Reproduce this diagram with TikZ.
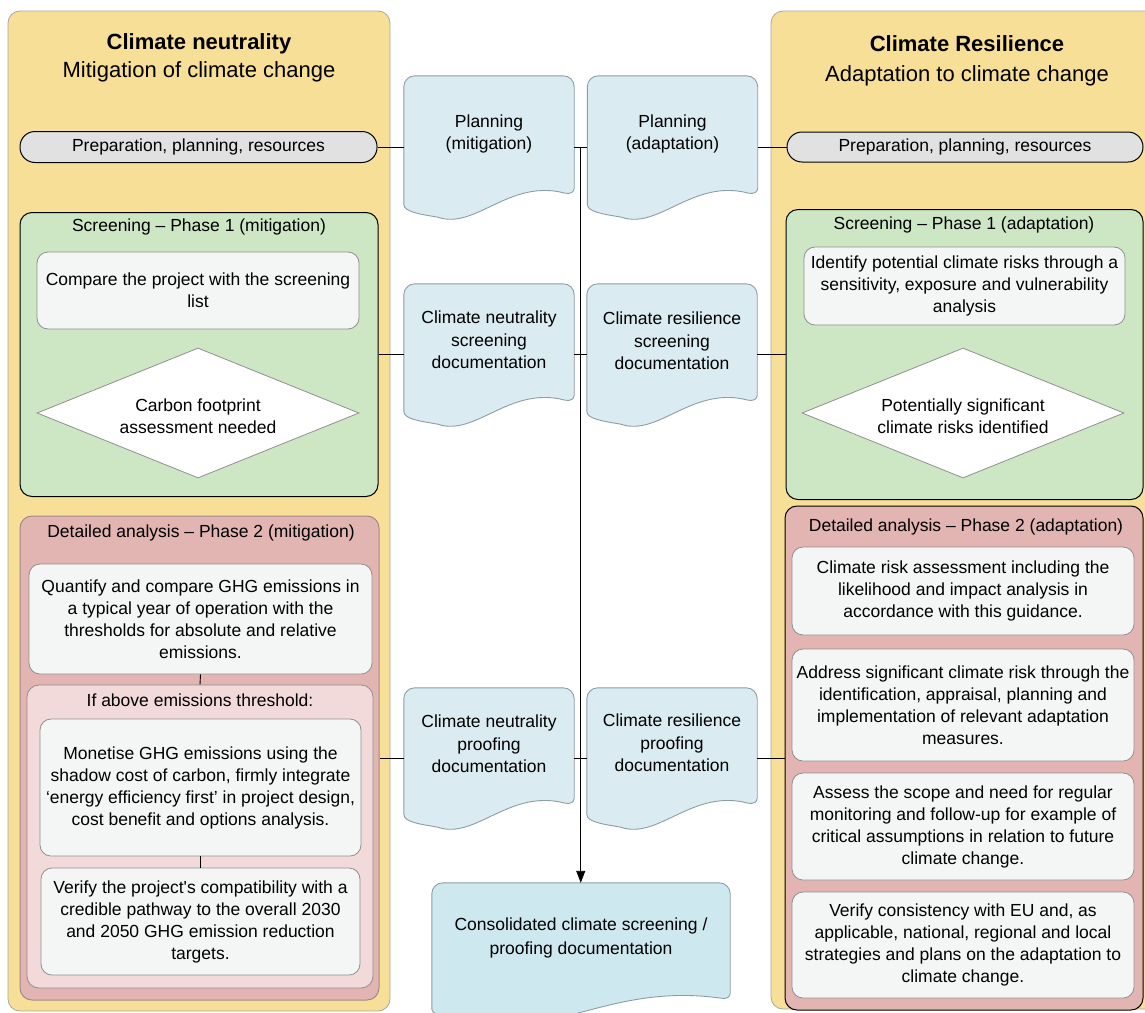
\documentclass[tikz,border=0pt]{standalone}
\usepackage{fontspec}
\setmainfont{Liberation Sans}
\usetikzlibrary{shapes.geometric,arrows.meta,calc}

\definecolor{panelfill}{HTML}{F7DF97}
\definecolor{panelline}{HTML}{A9A79D}
\definecolor{pillfill}{HTML}{E1E1E1}
\definecolor{docfill}{HTML}{DAEBF1}
\definecolor{docfillb}{HTML}{CDE8EF}
\definecolor{docline}{HTML}{8E9DA3}
\definecolor{scrfill}{HTML}{CDE6C4}
\definecolor{detfill}{HTML}{E2B4B2}
\definecolor{detline}{HTML}{A08A8A}
\definecolor{subfill}{HTML}{F3DADA}
\definecolor{boxfill}{HTML}{F4F6F5}
\definecolor{boxline}{HTML}{8F8F8F}

% document shape drawn on the frame of a named node
\newcommand\docpath[2]{%
  \path[draw=docline, fill=#2, line width=0.9pt, line join=round]
    let \p1=(#1.north west), \p2=(#1.south east), \n1={\x2-\x1} in
    (\x1,\y2+14pt) -- (\x1,\y1-11pt)
    arc[start angle=180, end angle=90, radius=11pt] -- (\x2-11pt,\y1)
    arc[start angle=90, end angle=0, radius=11pt] -- (\x2,\y2+30pt)
    .. controls (\x2,\y2+26pt) and (\x2-4pt,\y2+24pt) .. (\x2-9pt,\y2+25pt)
    .. controls (\x1+0.62*\n1,\y2+40pt) and (\x1+0.42*\n1,\y2-12pt) .. (\x1+0.2*\n1,\y2+1pt)
    .. controls (\x1+0.1*\n1,\y2+4pt) and (\x1,\y2+6pt) .. (\x1,\y2+14pt) -- cycle;
}

\begin{document}
\begin{tikzpicture}[x=1pt,y=-1pt,
  body/.style={font=\fontsize{17.5}{22}\selectfont, align=center, inner sep=0pt},
  panel/.style={rectangle, draw=panelline, fill=panelfill, line width=0.8pt, rounded corners=12pt, inner sep=0pt},
  pillbox/.style={body, rectangle, draw=black, fill=pillfill, line width=1pt, rounded corners=15pt},
  docframe/.style={rectangle, draw=none, inner sep=0pt, minimum width=170pt, minimum height=141pt},
  doctext/.style={body, font=\fontsize{17.5}{22.5}\selectfont},
  scrbox/.style={rectangle, draw=black, fill=scrfill, line width=1pt, rounded corners=12pt, inner sep=0pt},
  detbox/.style={rectangle, draw=#1, fill=detfill, line width=1pt, rounded corners=12pt, inner sep=0pt},
  subbox/.style={rectangle, draw=boxline, fill=subfill, line width=0.8pt, rounded corners=12pt, inner sep=0pt},
  wbox/.style={body, rectangle, draw=boxline, fill=boxfill, line width=0.8pt, rounded corners=11pt},
  dbox/.style={rectangle, draw=none, inner sep=0pt},
  dshape/.style={diamond, draw=boxline, fill=white, line width=0.8pt, aspect=2.5, inner sep=0pt},
  hdr/.style={body},
  conn/.style={draw=black, line width=0.9pt},
]
\useasboundingbox (0,0) rectangle (1145,1012);
\clip (0,0) rectangle (1145,1012);

% panels
\node[panel, minimum width=382pt, minimum height=1000pt] (pan1) at (199,511) {};
\node[panel, minimum width=394pt, minimum height=998pt] (pan2) at (968,510) {};

\node[body, font=\fontsize{22}{28}\selectfont] (title1) at (199,58)
  {{\bfseries Climate neutrality}\\Mitigation of climate change};
\node[body, font=\fontsize{22}{30}\selectfont] (title2) at (967,61)
  {{\bfseries Climate Resilience}\\Adaptation to climate change};

% preparation pills
\node[pillbox, minimum width=357pt, minimum height=31pt] (pill1) at (198.5,147) {Preparation, planning, resources};
\node[pillbox, minimum width=356pt, minimum height=30pt] (pill2) at (965,147) {Preparation, planning, resources};

% screening boxes
\node[scrbox, minimum width=358pt, minimum height=284pt] (scr1) at (199,354.5) {};
\node[hdr] (scr1t) at (199,227) {Screening – Phase 1 (mitigation)};
\node[wbox, minimum width=322pt, minimum height=77pt] (cmp) at (198,290.5) {Compare the project with the screening\\list};
\node[dshape, minimum width=322pt, minimum height=130pt] (dia1) at (198,413) {};
\node[body] (dia1t) at (198,416) {Carbon footprint\\assessment needed};

\node[scrbox, minimum width=357pt, minimum height=290pt] (scr2) at (964.5,354.5) {};
\node[hdr] (scr2t) at (964,225) {Screening – Phase 1 (adaptation)};
\node[wbox, minimum width=321pt, minimum height=78pt] (idn) at (964.5,286) {Identify potential climate risks through a\\sensitivity, exposure and vulnerability\\analysis};
\node[dshape, minimum width=322pt, minimum height=130pt] (dia2) at (963,413) {};
\node[body] (dia2t) at (963,416) {Potentially significant\\climate risks identified};

% detailed analysis (mitigation)
\node[detbox=detline, minimum width=359pt, minimum height=484pt] (det1) at (199.5,758) {};
\node[hdr] (det1t) at (201,533) {Detailed analysis – Phase 2 (mitigation)};
\node[wbox, minimum width=343pt, minimum height=110pt] (qnt) at (200.5,619) {Quantify and compare GHG emissions in\\a typical year of operation with the\\thresholds for absolute and relative\\emissions.};
\node[subbox, minimum width=346pt, minimum height=303pt] (sub1) at (200,836.5) {};
\node[hdr] (sub1t) at (200,700) {If above emissions threshold:};
\node[wbox, minimum width=321pt, minimum height=137pt] (mon) at (200.5,787.5) {Monetise GHG emissions using the\\shadow cost of carbon, firmly integrate\\‘energy efficiency first’ in project design,\\cost benefit and options analysis.};
\node[wbox, minimum width=319pt, minimum height=107pt] (ver) at (200.5,921.5) {Verify the project\textquotesingle s compatibility with a\\credible pathway to the overall 2030\\and 2050 GHG emission reduction\\targets.};

% detailed analysis (adaptation)
\node[detbox=black, minimum width=358pt, minimum height=504pt] (det2) at (964,758) {};
\node[hdr] (det2t) at (966,527) {Detailed analysis – Phase 2 (adaptation)};
\node[wbox, minimum width=342pt, minimum height=88pt] (ra) at (963,591) {Climate risk assessment including the\\likelihood and impact analysis in\\accordance with this guidance.};
\node[wbox, minimum width=342pt, minimum height=112pt] (rb) at (963,705) {Address significant climate risk through the\\identification, appraisal, planning and\\implementation of relevant adaptation\\measures.};
\node[wbox, minimum width=342pt, minimum height=107pt] (rc) at (963,826.5) {Assess the scope and need for regular\\monitoring and follow-up for example of\\critical assumptions in relation to future\\climate change.};
\node[wbox, minimum width=342pt, minimum height=106pt] (rd) at (963,945) {Verify consistency with EU and, as\\applicable, national, regional and local\\strategies and plans on the adaptation to\\climate change.};

% document frames
\node[docframe, minimum height=142pt] (pm) at (489,147) {};
\node[docframe, minimum height=142pt] (pa) at (672.5,147) {};
\node[docframe] (sm) at (489,354.5) {};
\node[docframe] (sa) at (672,354.5) {};
\node[docframe, minimum height=140pt] (prm) at (489,758) {};
\node[docframe, minimum height=140pt] (pra) at (672,758) {};
\node[docframe, minimum width=298pt, minimum height=140pt] (cons) at (581,953) {};

\docpath{pm}{docfill}
\docpath{pa}{docfill}
\docpath{sm}{docfill}
\docpath{sa}{docfill}
\docpath{prm}{docfill}
\docpath{pra}{docfill}
\docpath{cons}{docfillb}

\node[doctext] (pmt) at (489,134) {Planning\\(mitigation)};
\node[doctext] (pat) at (672.5,134) {Planning\\(adaptation)};
\node[doctext] (smt) at (489,340) {Climate neutrality\\screening\\documentation};
\node[doctext] (sat) at (672,341) {Climate resilience\\screening\\documentation};
\node[doctext] (prmt) at (489,744) {Climate neutrality\\proofing\\documentation};
\node[doctext] (prat) at (672,743) {Climate resilience\\proofing\\documentation};
\node[doctext, font=\fontsize{17.5}{24}\selectfont] (const) at (581,938) {Consolidated climate screening /\\proofing documentation};

% connectors
\draw[conn] (pill1.east) -- (pm.west);
\draw[conn] (pm.east) -- (pa.west);
\draw[conn] (pa.east) -- (pill2.west);
\draw[conn] (scr1.east) -- (sm.west);
\draw[conn] (sm.east) -- (sa.west);
\draw[conn] (sa.east) -- (scr2.west);
\draw[conn] (det1.east) -- (prm.west);
\draw[conn] (prm.east) -- (pra.west);
\draw[conn] (pra.east) -- (det2.west);
\draw[conn] (qnt.south) -- (sub1.north);
\draw[conn] (mon.south) -- (ver.north);
\coordinate (j) at ($(pm.east)!0.5!(pa.west)$);
\draw[conn, -{Triangle[length=12pt,width=9pt]}] (j) -- (j |- cons.north);
\end{tikzpicture}
\end{document}
